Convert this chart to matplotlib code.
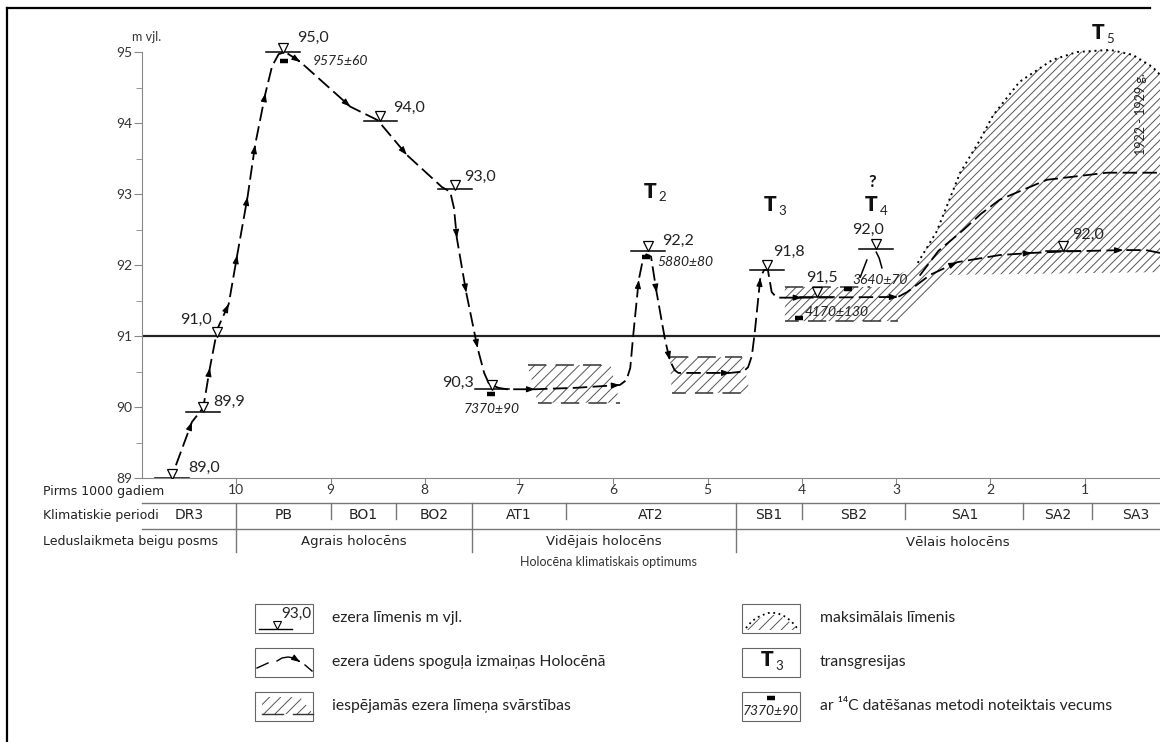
import numpy as np
import matplotlib
matplotlib.use("Agg")
import matplotlib.pyplot as plt
from matplotlib.patches import Polygon, Rectangle
from matplotlib import transforms

plt.rcParams["font.family"] = ["Lato", "DejaVu Sans"]
plt.rcParams["hatch.linewidth"] = 0.7

# ezera līmeņa līkne: tūkst. gadu pirms mūsdienām / m vjl.
curve_x = [10.64, 10.47, 10.35, 10.28, 10.20, 10.08, 9.99, 9.88, 9.80, 9.69, 9.62, 9.55,
           9.48, 9.32, 8.79, 8.50, 8.19, 7.82, 7.73, 7.69, 7.66, 7.56, 7.44, 7.37, 7.32,
           7.22, 7.13, 6.83, 6.40, 5.93, 5.86, 5.82, 5.79, 5.73, 5.69, 5.65, 5.60, 5.54,
           5.45, 5.40, 5.35, 5.31, 4.76, 4.62, 4.57, 4.53, 4.50, 4.44, 4.40, 4.36, 4.32,
           4.28, 4.25, 4.00, 2.98, 2.88, 2.64, 2.35, 1.90, 1.56, 1.23, 0.59, 0.35, 0.20]
curve_y = [89.18, 89.79, 89.99, 90.55, 91.10, 91.45, 92.14, 92.96, 93.69, 94.42, 94.80, 94.97,
           95.00, 94.86, 94.23, 94.04, 93.55, 93.10, 93.03, 92.80, 92.38, 91.61, 90.83, 90.48, 90.33,
           90.27, 90.25, 90.25, 90.27, 90.31, 90.38, 90.55, 90.99, 91.79, 92.05, 92.15, 92.12, 91.61,
           90.94, 90.66, 90.52, 90.48, 90.48, 90.50, 90.56, 90.72, 91.04, 91.82, 91.93, 91.93, 91.62,
           91.56, 91.54, 91.54, 91.55, 91.62, 91.86, 92.04, 92.14, 92.17, 92.19, 92.21, 92.21, 92.17]
arrow_idx = [1, 3, 5, 6, 7, 8, 9, 13, 14, 16, 20, 21, 22, 27, 29, 33, 37, 39, 42, 47,
             53, 54, 57, 59, 61]

# iespējamā augstākā līmeņa līkne (T5)
upper_x = [2.75, 2.55, 2.29, 2.10, 1.90, 1.40, 0.76, 0.23]
upper_y = [91.85, 92.20, 92.49, 92.72, 92.92, 93.20, 93.30, 93.30]

# maksimālais līmenis
max_x = [2.77, 2.57, 2.32, 2.11, 1.97, 1.69, 1.34, 1.08, 0.73, 0.49, 0.28, 0.20]
max_y = [92.03, 92.47, 93.30, 93.76, 94.11, 94.58, 94.89, 95.00, 95.03, 94.96, 94.79, 94.68]

# svārstību apgabals zem maksimālā līmeņa
low_x = [4.18, 2.98, 2.91, 2.46, 0.20]
low_y = [91.21, 91.21, 91.25, 91.86, 91.90]
sb_top = (4.18, 3.17, 91.69)

# mazie svārstību apgabali: augša (x1, x2, y), apakša (x1, x2, y)
boxes = [((6.91, 6.03, 90.59), (6.80, 5.93, 90.06)),
         ((5.40, 4.63, 90.70), (5.38, 4.55, 90.20)),
         ((4.18, 3.28, 91.69), (4.18, 2.98, 91.21))]

# ezera līmeņa atzīmes
lev_x = [10.68, 10.35, 10.20, 9.50, 8.47, 7.68, 7.29, 5.63, 4.37, 3.84, 3.21, 1.23]
lev_y = [89.00, 89.93, 91.00, 95.00, 94.03, 93.07, 90.25, 92.20, 91.93, 91.55, 92.23, 92.20]
lev_lab = ["89,0", "89,9", "91,0", "95,0", "94,0", "93,0", "90,3", "92,2", "91,8", "91,5", "92,0", "92,0"]
lev_line = [True, True, False, True, True, True, True, True, True, True, True, True]

# 14C datējumi
date_x = [9.49, 7.30, 5.65, 4.03, 3.51]
date_y = [94.87, 90.18, 92.11, 91.25, 91.66]
date_lab = ["9575±60", "7370±90", "5880±80", "4170±130", "3640±70"]

# transgresijas
tr_x = [5.61, 4.34, 3.26, 0.86]
tr_y = [93.04, 92.85, 92.85, 95.27]
tr_n = ["2", "3", "4", "5"]

# klimatiskie periodi
per_edges = [11.0, 10.0, 9.0, 8.3, 7.5, 6.5, 4.7, 4.0, 2.9, 1.65, 0.92, 0.0]
per_names = ["DR3", "PB", "BO1", "BO2", "AT1", "AT2", "SB1", "SB2", "SA1", "SA2", "SA3"]
epoch_edges = [10.0, 7.5, 4.7]
epoch_names = ["Agrais holocēns", "Vidējais holocēns", "Vēlais holocēns"]
epoch_mid = [8.75, 6.1, 2.35]

fig = plt.figure(figsize=(11.6, 7.42), dpi=100)
lg = fig.add_axes([0, 0, 1, 1], zorder=0)
lg.set_xlim(0, 1160)
lg.set_ylim(742, 0)
lg.axis("off")

ax = fig.add_axes([142 / 1160, 264 / 742, 1018 / 1160, 469 / 742], zorder=1)
ax.patch.set_alpha(0)
ax.set_xlim(11.0, 0.2)
ax.set_ylim(89, 89 + 469 / 71)

for s in ["top", "right"]:
    ax.spines[s].set_visible(False)
ax.spines["left"].set_bounds(89, 95)
ax.spines["left"].set_color("#888")
ax.spines["bottom"].set_color("#888")
ax.set_yticks(range(89, 96))
ax.set_yticks(np.arange(89.5, 95, 1), minor=True)
ax.tick_params(axis="y", which="major", length=6, color="#888", labelsize=10, labelcolor="#333", pad=1)
ax.tick_params(axis="y", which="minor", length=4, color="#888")
ax.set_xticks(range(10, 0, -1))
ax.tick_params(axis="x", length=4, color="#888", labelsize=10, labelcolor="#333", pad=0)
lg.text(147, 37, "m vjl.", ha="center", va="center", fontsize=9, color="#333")

ax.axhline(91, color="#222", lw=1.6)

# svārstību apgabali
poly = list(zip(low_x, low_y)) + list(zip(max_x, max_y))[::-1] + [(sb_top[1], sb_top[2]), (sb_top[0], sb_top[2])]
ax.add_patch(Polygon(poly, closed=True, fill=False, hatch="////", edgecolor="#555", lw=0))
for (tx1, tx2, ty), (bx1, bx2, by) in boxes[:2]:
    ax.add_patch(Polygon([(tx1, ty), (tx2, ty), (bx2, by), (bx1, by)], closed=True,
                         fill=False, hatch="///", edgecolor="#555", lw=0))
for (tx1, tx2, ty), (bx1, bx2, by) in boxes:
    ax.plot([tx1, tx2], [ty, ty], color="#333", lw=1.1, ls=(0, (12, 6)))
    ax.plot([bx1, bx2], [by, by], color="#333", lw=1.1, ls=(3, (12, 6)))

ax.plot(max_x, max_y, color="k", lw=1.4, ls=(0, (1, 2)))
ax.plot(upper_x, upper_y, color="k", lw=1.3, ls=(0, (8, 3)))
ax.plot(curve_x, curve_y, color="k", lw=1.3, ls=(0, (8, 3)))
for i in arrow_idx:
    x1, y1 = curve_x[i], curve_y[i]
    x0, y0 = curve_x[i - 1], curve_y[i - 1]
    ax.annotate("", xy=(x1, y1), xytext=(x1 + 0.1 * (x0 - x1), y1 + 0.1 * (y0 - y1)),
                arrowprops=dict(arrowstyle="-|>,head_length=0.5,head_width=0.18",
                                color="k", lw=0.8, shrinkA=0, shrinkB=0))

# T4 loks
ax.plot([3.31, 3.38], [92.07, 91.83], color="k", lw=1.1)
ax.plot([3.21, 3.18, 3.15], [92.18, 92.10, 91.96], color="k", lw=1.1)

# līmeņa atzīmes
tri = transforms.offset_copy(ax.transData, fig=fig, x=0, y=4.5, units="dots")
lab_off = [(16, 10, "left"), (10, 10, "left"), (-6, 16, "right"), (14, 14, "left"),
           (13, 13, "left"), (9, 12, "left"), (-18, 6, "right"), (14, 10, "left"),
           (6, 18, "left"), (5, 19, "center"), (-8, 19, "center"), (9, 16, "left")]
for x, y, lab, ln, (dx, dy, ha) in zip(lev_x, lev_y, lev_lab, lev_line, lab_off):
    if ln:
        ax.plot([x - 0.18, x + 0.18], [y, y], color="k", lw=1.1)
    ax.plot(x, y, marker="v", ms=7.5, mfc="white", mec="k", mew=0.9, transform=tri, zorder=5)
    ax.annotate(lab, (x, y), xytext=(dx, dy), textcoords="offset pixels", ha=ha,
                va="center", fontsize=11.5, color="#222")

date_off = [(28, 0, "left"), (1, -15, "center"), (11, -5, "left"), (6, 6, "left"), (4, 9, "left")]
for x, y, lab, (dx, dy, ha) in zip(date_x, date_y, date_lab, date_off):
    ax.plot(x, y, marker="_", ms=6, mew=3.2, color="k", zorder=5)
    ax.annotate(lab, (x, y), xytext=(dx, dy), textcoords="offset pixels", ha=ha,
                va="center", fontsize=10, style="italic", color="#222")

for x, y, n in zip(tr_x, tr_y, tr_n):
    ax.text(x, y, "T", ha="center", va="center", fontsize=15, fontweight="heavy", color="#111")
    ax.annotate(n, (x, y), xytext=(12, -6), textcoords="offset pixels", ha="center",
                va="center", fontsize=9.5, color="#222")
ax.annotate("?", (tr_x[2], tr_y[2]), xytext=(1, 23), textcoords="offset pixels",
            ha="center", va="center", fontsize=12, fontweight="bold", color="#111")
ax.text(0.40, 94.12, "1922 - 1929 g.", rotation=90, ha="center", va="center",
        fontsize=9, color="#222")

# tabula zem grafika
tab = transforms.blended_transform_factory(ax.transData, lg.transData)
for yy in [503, 529]:
    lg.plot([142, 1160], [yy, yy], color="#777", lw=1)
for b in per_edges[1:-1]:
    lg.plot([b, b], [503, 552 if b in epoch_edges else 519], color="#777", lw=1, transform=tab)
for a, b, nm in zip(per_edges[:-1], per_edges[1:], per_names):
    lg.text((a + b) / 2, 515, nm, transform=tab, ha="center", va="center",
            fontsize=10, family="DejaVu Sans", color="#222")
for m, nm in zip(epoch_mid, epoch_names):
    lg.text(m, 542, nm, transform=tab, ha="center", va="center", fontsize=9.5,
            family="DejaVu Sans", color="#222")
lg.text(6.05, 562, "Holocēna klimatiskais optimums", transform=tab, ha="center",
        va="center", fontsize=9, color="#333")
for yy, t in [(492, "Pirms 1000 gadiem"), (515, "Klimatiskie periodi"), (542, "Leduslaikmeta beigu posms")]:
    lg.text(43, yy, t, ha="left", va="center", fontsize=9, family="DejaVu Sans", color="#222")

# rāmis
lg.plot([7, 1150], [8, 8], color="k", lw=1.6)
lg.plot([7, 7], [8, 742], color="k", lw=1.6)

# leģenda
for bx in [255, 742]:
    for by in [604, 648, 692]:
        lg.add_patch(Rectangle((bx, by), 58, 29, fill=False, edgecolor="#666", lw=0.8))
lg.plot([259, 292], [629, 629], color="k", lw=1)
lg.plot(277, 624.5, marker="v", ms=6, mfc="white", mec="k", mew=0.8)
lg.text(296, 614, "93,0", ha="center", va="center", fontsize=11, color="#222")
lg.plot([257, 268], [668, 663], color="k", lw=1)
arc_x = np.array([277, 282, 288, 294, 299])
arc_y = np.array([661, 658, 657, 658, 661])
lg.plot(arc_x, arc_y, color="k", lw=1)
lg.annotate("", xy=(300, 662), xytext=(297, 660),
            arrowprops=dict(arrowstyle="-|>,head_length=0.5,head_width=0.18", color="k", lw=0.8))
lg.plot([305, 312], [665, 671], color="k", lw=1)
lg.add_patch(Polygon([(262, 697), (300, 697), (313, 714), (262, 714)], closed=True,
                     fill=False, hatch="///", edgecolor="#555", lw=0))
lg.plot([262, 283], [714, 714], color="#333", lw=1)
lg.plot([293, 313], [714, 714], color="#333", lw=1)
dot_x = np.array([746, 752, 760, 768, 777, 786, 792, 797])
dot_y = np.array([628, 621, 616, 613, 613, 617, 622, 628])
lg.add_patch(Polygon(list(zip(dot_x, dot_y + 2)), closed=True, fill=False, hatch="///",
                     edgecolor="#555", lw=0))
lg.plot(dot_x, dot_y, color="k", lw=1.3, ls=(0, (1, 2)))
lg.text(767, 660, "T", ha="center", va="center", fontsize=15, fontweight="heavy", color="#111")
lg.text(779, 666, "3", ha="center", va="center", fontsize=9.5, color="#222")
lg.plot(771, 698, marker="_", ms=6, mew=3.2, color="k")
lg.text(771, 711, "7370±90", ha="center", va="center", fontsize=10, style="italic", color="#222")

leg_left = ["ezera līmenis m vjl.", "ezera ūdens spoguļa izmaiņas Holocēnā",
            "iespējamās ezera līmeņa svārstības"]
leg_right = ["maksimālais līmenis", "transgresijas", "ar ¹⁴C datēšanas metodi noteiktais vecums"]
for yy, a, b in zip([618, 662, 706], leg_left, leg_right):
    lg.text(332, yy, a, ha="left", va="center", fontsize=11.3, color="#222")
    lg.text(820, yy, b, ha="left", va="center", fontsize=11.3, color="#222")

fig.savefig("out.png", dpi=100)
